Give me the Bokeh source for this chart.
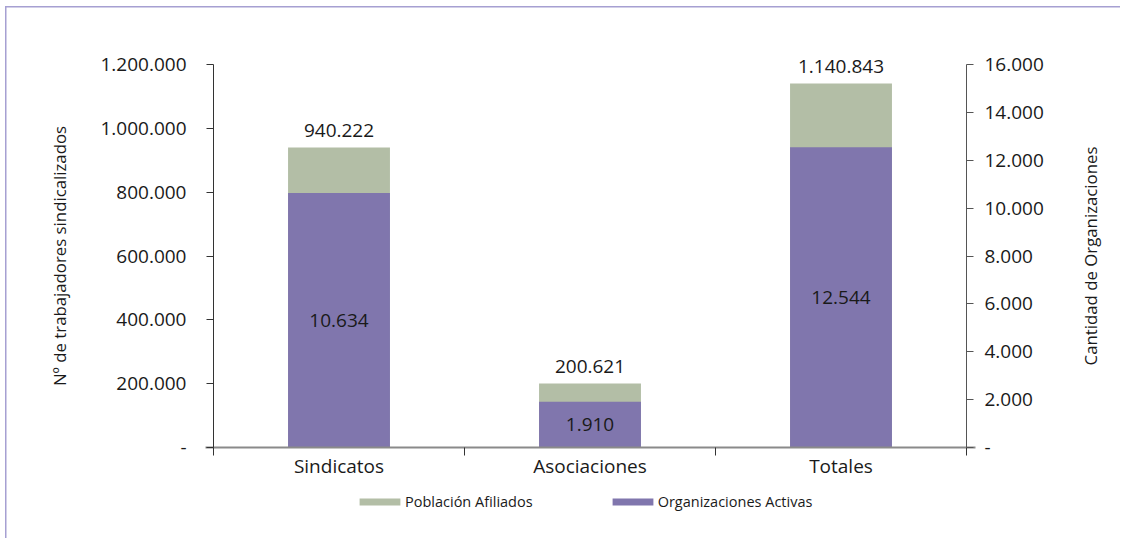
import math
from bokeh.plotting import figure
from bokeh.models import (Range1d, LinearAxis, FixedTicker, Legend, LegendItem,
                          ColumnDataSource, Label)
from bokeh.core.properties import value
from bokeh.embed import file_html
from bokeh.resources import INLINE

# ---- data ----
categories = ["Sindicatos", "Asociaciones", "Totales"]
afiliados = [940222, 200621, 1140843]
organizaciones = [10634, 1910, 12544]
left_ticks = [0, 200000, 400000, 600000, 800000, 1000000, 1200000]
right_ticks = [0, 2000, 4000, 6000, 8000, 10000, 12000, 14000, 16000]
left_title = "Nº de trabajadores sindicalizados"
right_title = "Cantidad de Organizaciones"
legend_labels = ["Población Afiliados", "Organizaciones Activas"]


def fmt(v):
    return "-" if v == 0 else f"{v:,}".replace(",", ".")


GREEN = "#B3BEA6"
PURPLE = "#8076AD"
FONT = "Open Sans"
TXT = "#1a1a1a"
FRAME = "#A6A0D2"

# ---- layout (pixels) ----
W, H = 1120, 538
LEFT_PX = 213        # left value axis position
CAT_PX = 251         # width of one category slot
BOTTOM_PX = 91       # distance of the zero line from the canvas bottom
AXIS_PX = 383        # length of the value axes

x_start = -LEFT_PX / CAT_PX
x_end = (W - LEFT_PX) / CAT_PX
lo = -BOTTOM_PX / AXIS_PX
hi = (H - BOTTOM_PX) / AXIS_PX

xpos = [i + 0.5 for i in range(len(categories))]
src = ColumnDataSource(dict(
    x=xpos,
    afil=afiliados,
    org=organizaciones,
    org_mid=[v / 2 for v in organizaciones],
    afil_lbl=[fmt(v) for v in afiliados],
    org_lbl=[fmt(v) for v in organizaciones],
))

p = figure(width=W, height=H, output_backend="svg", toolbar_location=None,
           title=None,
           x_range=Range1d(x_start, x_end),
           y_range=Range1d(lo * left_ticks[-1], hi * left_ticks[-1]),
           min_border=0, x_axis_location=None, y_axis_location=None)
p.extra_y_ranges = {"right": Range1d(lo * right_ticks[-1], hi * right_ticks[-1])}
p.outline_line_color = None
p.xgrid.visible = False
p.ygrid.visible = False
p.background_fill_alpha = 0
p.border_fill_alpha = 0
p.styles = {"background": (f"linear-gradient({FRAME},{FRAME}) 5px 6px / 1.5px 100% no-repeat, "
                           f"linear-gradient({FRAME},{FRAME}) 5px 6px / 100% 1.5px no-repeat, white")}

# bars
g = p.vbar(x="x", top="afil", width=0.406, source=src, fill_color=GREEN,
           line_color=None)
b = p.vbar(x="x", top="org", width=0.406, source=src, fill_color=PURPLE,
           line_color=None, y_range_name="right")

# value labels
p.text(x="x", y="afil", text="afil_lbl", source=src, text_align="center",
       text_baseline="bottom", y_offset=-10, text_font=value(FONT),
       text_font_size="19px", text_color=TXT)
p.text(x="x", y="org_mid", text="org_lbl", source=src, text_align="center",
       text_baseline="middle", text_font=value(FONT), text_font_size="19px",
       text_color=TXT, y_range_name="right")

# x axis (drawn at value 0)
xax = LinearAxis(ticker=FixedTicker(ticks=xpos, minor_ticks=list(range(len(categories) + 1))),
                 fixed_location=0, bounds=(-8 / CAT_PX, len(categories) + 9 / CAT_PX))
xax.major_label_overrides = {x: c for x, c in zip(xpos, categories)}
xax.major_tick_out = 0
xax.major_tick_in = 0
xax.minor_tick_out = 8
xax.minor_tick_in = 0
xax.minor_tick_line_color = "#333333"
xax.axis_line_color = "#8a8a8a"
xax.axis_line_width = 2
xax.major_label_standoff = -3
xax.major_label_text_font = FONT
xax.major_label_text_font_size = "19px"
xax.major_label_text_color = TXT
p.add_layout(xax, "below")

# left axis
lax = LinearAxis(ticker=FixedTicker(ticks=left_ticks, minor_ticks=[]),
                 bounds=(0, left_ticks[-1]), fixed_location=0)
lax.major_label_overrides = {t: fmt(t) for t in left_ticks}
lax.major_label_text_font = FONT
lax.major_label_text_font_size = "19px"
lax.major_label_text_color = TXT
lax.major_label_standoff = 20
lax.major_tick_out = 7
lax.major_tick_in = 0
lax.minor_tick_out = 0
lax.minor_tick_in = 0
lax.axis_line_color = "#333333"
lax.major_tick_line_color = "#333333"
p.add_layout(lax, "left")

# right axis
rax = LinearAxis(y_range_name="right",
                 ticker=FixedTicker(ticks=right_ticks, minor_ticks=[]),
                 bounds=(0, right_ticks[-1]), fixed_location=len(categories))
rax.major_label_overrides = {t: fmt(t) for t in right_ticks}
rax.major_label_text_font = FONT
rax.major_label_text_font_size = "19px"
rax.major_label_text_color = TXT
rax.major_label_standoff = 11
rax.major_tick_out = 7
rax.major_tick_in = 0
rax.minor_tick_out = 0
rax.minor_tick_in = 0
rax.axis_line_color = "#555555"
rax.major_tick_line_color = "#555555"
p.add_layout(rax, "right")

# axis titles (centred on the value axes, reading bottom to top)
mid_y = BOTTOM_PX + AXIS_PX / 2
for txt, sx in [(left_title, 59), (right_title, 1090)]:
    p.add_layout(Label(x=sx, y=mid_y, x_units="screen", y_units="screen",
                       text=txt, angle=math.pi / 2, text_align="center",
                       text_baseline="middle", text_font=FONT,
                       text_font_size="16.8px", text_color=TXT))

legend = Legend(items=[LegendItem(label=legend_labels[0], renderers=[g]),
                       LegendItem(label=legend_labels[1], renderers=[b])],
                orientation="horizontal", location=(354, 27))
legend.glyph_width = 51
legend.glyph_height = 9
legend.label_standoff = 0
legend.spacing = 74
legend.padding = 0
legend.margin = 0
legend.border_line_color = None
legend.background_fill_alpha = 0
legend.label_text_font = FONT
legend.label_text_font_size = "14.5px"
legend.label_text_color = TXT
legend.label_height = 14
p.add_layout(legend, "center")

open("out.html", "w").write(file_html(p, INLINE))
